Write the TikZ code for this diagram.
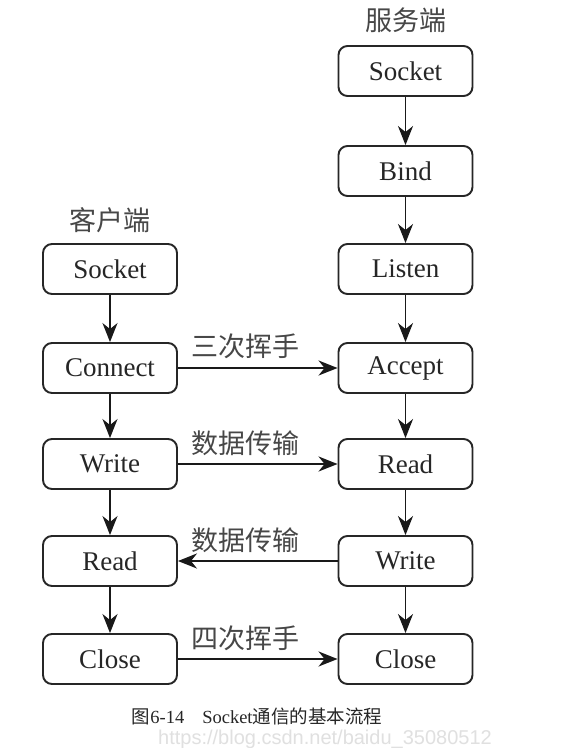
\documentclass[tikz,border=0pt]{standalone}
\usepackage{fontspec}
\setmainfont{Liberation Serif}
\newfontfamily\cjk{Noto Sans CJK SC}
\newfontfamily\wmfont{Liberation Sans}
\usetikzlibrary{arrows.meta}
\begin{document}
\begin{tikzpicture}[x=1pt,y=-1pt,
  stepbox/.style={draw=black!85,line width=1.9pt,rounded corners=9pt,minimum width=134pt,minimum height=50pt,inner sep=0pt,font=\fontsize{27}{27}\selectfont,text=black!85},
  flow/.style={line width=1.9pt,draw=black!90,-{Stealth[length=19pt,width=15pt,inset=6pt]}},
  cjklab/.style={font=\cjk\fontsize{27}{27}\selectfont,text=black!72,inner sep=0pt}]
\useasboundingbox (0,0) rectangle (565,748);
\fill[white] (0,0) rectangle (565,748);
% server column
\node[stepbox] (sSocket) at (405.5,71) {Socket};
\node[stepbox] (sBind) at (405.5,171) {Bind};
\node[stepbox] (sListen) at (405.5,269) {Listen};
\node[stepbox] (sAccept) at (405.5,368) {Accept};
\node[stepbox] (sRead) at (405.5,464) {Read};
\node[stepbox] (sWrite) at (405.5,561) {Write};
\node[stepbox] (sClose) at (405.5,659) {Close};
% client column
\node[stepbox] (cSocket) at (110,269) {Socket};
\node[stepbox] (cConnect) at (110,368) {Connect};
\node[stepbox] (cWrite) at (110,464) {Write};
\node[stepbox] (cRead) at (110,561) {Read};
\node[stepbox] (cClose) at (110,659) {Close};
% headings
\node[cjklab] (server) at (405.5,20) {服务端};
\node[cjklab] (client) at (110,220) {客户端};
% vertical arrows
\draw[flow] (sSocket) -- (sBind);
\draw[flow] (sBind) -- (sListen);
\draw[flow] (sListen) -- (sAccept);
\draw[flow] (sAccept) -- (sRead);
\draw[flow] (sRead) -- (sWrite);
\draw[flow] (sWrite) -- (sClose);
\draw[flow] (cSocket) -- (cConnect);
\draw[flow] (cConnect) -- (cWrite);
\draw[flow] (cWrite) -- (cRead);
\draw[flow] (cRead) -- (cClose);
% horizontal arrows
\draw[flow] (cConnect) -- (sAccept);
\draw[flow] (cWrite) -- (sRead);
\draw[flow] (sWrite) -- (cRead);
\draw[flow] (cClose) -- (sClose);
% edge labels
\node[cjklab] (l1) at (245,346) {三次挥手};
\node[cjklab] (l2) at (245,443) {数据传输};
\node[cjklab] (l3) at (245,540) {数据传输};
\node[cjklab] (l4) at (245,638) {四次挥手};
% caption
\node[inner sep=0pt,text=black!85] (cap) at (257,716) {\cjk\fontsize{18.5}{18.5}\selectfont 图\fontspec{Liberation Serif}6-14\hspace{18pt}Socket\cjk 通信的基本流程};
\node[inner sep=0pt,text=black!12,font=\wmfont\fontsize{20}{20}\selectfont] (wm) at (325,739) {https://blog.csdn.net/baidu\_35080512};
\end{tikzpicture}
\end{document}
